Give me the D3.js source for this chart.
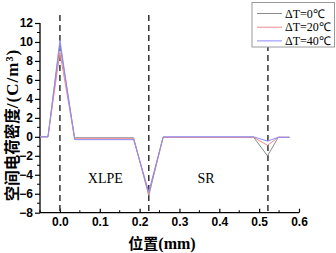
<!DOCTYPE html>
<html><head><meta charset="utf-8">
<script src="https://cdn.jsdelivr.net/npm/d3@7"></script>
<style>body{margin:0;background:#fff}svg{display:block}</style>
</head><body>
<script>
const positions = [-0.05, -0.03, 0.0, 0.037, 0.185, 0.223, 0.259, 0.486, 0.521, 0.548, 0.576];
const seriesNames = ["ΔT=0℃", "ΔT=20℃", "ΔT=40℃"];
const dT0  = [0, 0, 9.7, -0.1, -0.1, -6.2, -0.05, -0.05, -2.0, -0.05, -0.05];
const dT20 = [0, 0, 8.9, -0.2, -0.2, -6.0, -0.05, -0.05, -0.9, -0.05, -0.05];
const dT40 = [0, 0, 10.2, -0.3, -0.3, -5.8, 0, 0, -0.45, -0.05, -0.05];
const seriesColors = ["#8c8c8c", "#f08a8a", "#8a8aff"];
const interfaces = [0.0, 0.223, 0.522];
const xTicks = [0.0, 0.1, 0.2, 0.3, 0.4, 0.5, 0.6];
const yTicks = [-8, -6, -4, -2, 0, 2, 4, 6, 8, 10, 12];
const regionLabels = [{t: "XLPE", x: 0.07, y: -4.9}, {t: "SR", x: 0.345, y: -4.9}];

const W = 336, H = 253;
const svg = d3.select("body").append("svg").attr("width", W).attr("height", H);
const x = d3.scaleLinear().domain([-0.05, 0.6]).range([40, 299]);
const y = d3.scaleLinear().domain([-8, 12]).range([212.7, 23]);

// Y axis
const yAxis = d3.axisLeft(y).tickValues(yTicks).tickSize(5).tickFormat(d3.format("d"));
const gy = svg.append("g").attr("transform", "translate(40,0)").call(yAxis);
gy.select(".domain").attr("d", `M0,${y(12)}V${y(-8)}`).attr("stroke", "#000").attr("stroke-width", 1.3);
gy.selectAll("text").attr("font-family", "Liberation Sans, Arial").attr("font-weight", "bold").attr("font-size", 12).attr("x", -7);
gy.selectAll("line").attr("stroke-width", 1.2);
const yMinor = d3.range(-7, 12, 2);
svg.append("g").selectAll("line").data(yMinor).join("line")
  .attr("x1", 37).attr("x2", 40).attr("y1", d => y(d)).attr("y2", d => y(d))
  .attr("stroke", "#000").attr("stroke-width", 1);

// X axis (ticks inward)
const xAxis = d3.axisBottom(x).tickValues(xTicks).tickSize(-4).tickFormat(d3.format(".1f"));
const gx = svg.append("g").attr("transform", `translate(0,${y(-8)})`).call(xAxis);
gx.select(".domain").attr("d", `M${x(-0.05)},0H${x(0.6)}`).attr("stroke", "#000").attr("stroke-width", 1.3);
gx.selectAll("text").attr("font-family", "Liberation Sans, Arial").attr("font-weight", "bold").attr("font-size", 12).attr("y", 5);
gx.selectAll("line").attr("stroke-width", 1.2);
const xMinor = [-0.05, 0.05, 0.15, 0.25, 0.35, 0.45, 0.55];
svg.append("g").selectAll("line").data(xMinor).join("line")
  .attr("x1", d => x(d)).attr("x2", d => x(d)).attr("y1", y(-8)).attr("y2", y(-8) - 2.5)
  .attr("stroke", "#000").attr("stroke-width", 1);

// Interface dashed lines
svg.append("g").selectAll("line").data(interfaces).join("line")
  .attr("x1", d => x(d)).attr("x2", d => x(d)).attr("y1", 15).attr("y2", y(-8))
  .attr("stroke", "#333").attr("stroke-width", 1.5).attr("stroke-dasharray", "6,4");

// Series
const line = d3.line().x((d, i) => x(positions[i])).y(d => y(d));
const allSeries = [dT0, dT20, dT40];
svg.append("g").selectAll("path").data(allSeries).join("path")
  .attr("d", d => line(d)).attr("fill", "none")
  .attr("stroke", (d, i) => seriesColors[i]).attr("stroke-width", 1);

// Region labels
svg.append("g").selectAll("text").data(regionLabels).join("text")
  .attr("x", d => x(d.x)).attr("y", d => y(d.y)).text(d => d.t)
  .attr("font-family", "Liberation Serif, Times New Roman").attr("font-size", 14).attr("fill", "#000");

// Legend
const lg = svg.append("g");
lg.append("rect").attr("x", 252).attr("y", 2.5).attr("width", 82.5).attr("height", 44.5)
  .attr("fill", "#fff").attr("stroke", "#999").attr("stroke-width", 1);
seriesNames.forEach((n, i) => {
  const yy = 13.5 + i * 13.7;
  lg.append("line").attr("x1", 257).attr("x2", 282).attr("y1", yy).attr("y2", yy)
    .attr("stroke", seriesColors[i]).attr("stroke-width", 1);
  lg.append("text").attr("x", 285).attr("y", yy + 4).text(n)
    .attr("font-family", "Liberation Serif, Times New Roman").attr("font-size", 12).attr("fill", "#000");
});

// Axis titles
const yt = svg.append("text").attr("transform", "translate(17.5,125) rotate(-90)").attr("text-anchor", "middle")
  .attr("font-weight", "bold");
yt.append("tspan").attr("font-family", "Noto Sans CJK SC").attr("font-size", 15.5).text("空间电荷密度");
yt.append("tspan").attr("font-family", "Liberation Serif, Times New Roman").attr("font-size", 17)
  .attr("letter-spacing", 1).text("/(C/m³)");
const xt = svg.append("text").attr("x", 162).attr("y", 248.5).attr("text-anchor", "middle").attr("font-weight", "bold");
xt.append("tspan").attr("font-family", "Noto Sans CJK SC").attr("font-size", 15).text("位置");
xt.append("tspan").attr("font-family", "Liberation Serif, Times New Roman").attr("font-size", 16).text("(mm)");
</script>
</body></html>
